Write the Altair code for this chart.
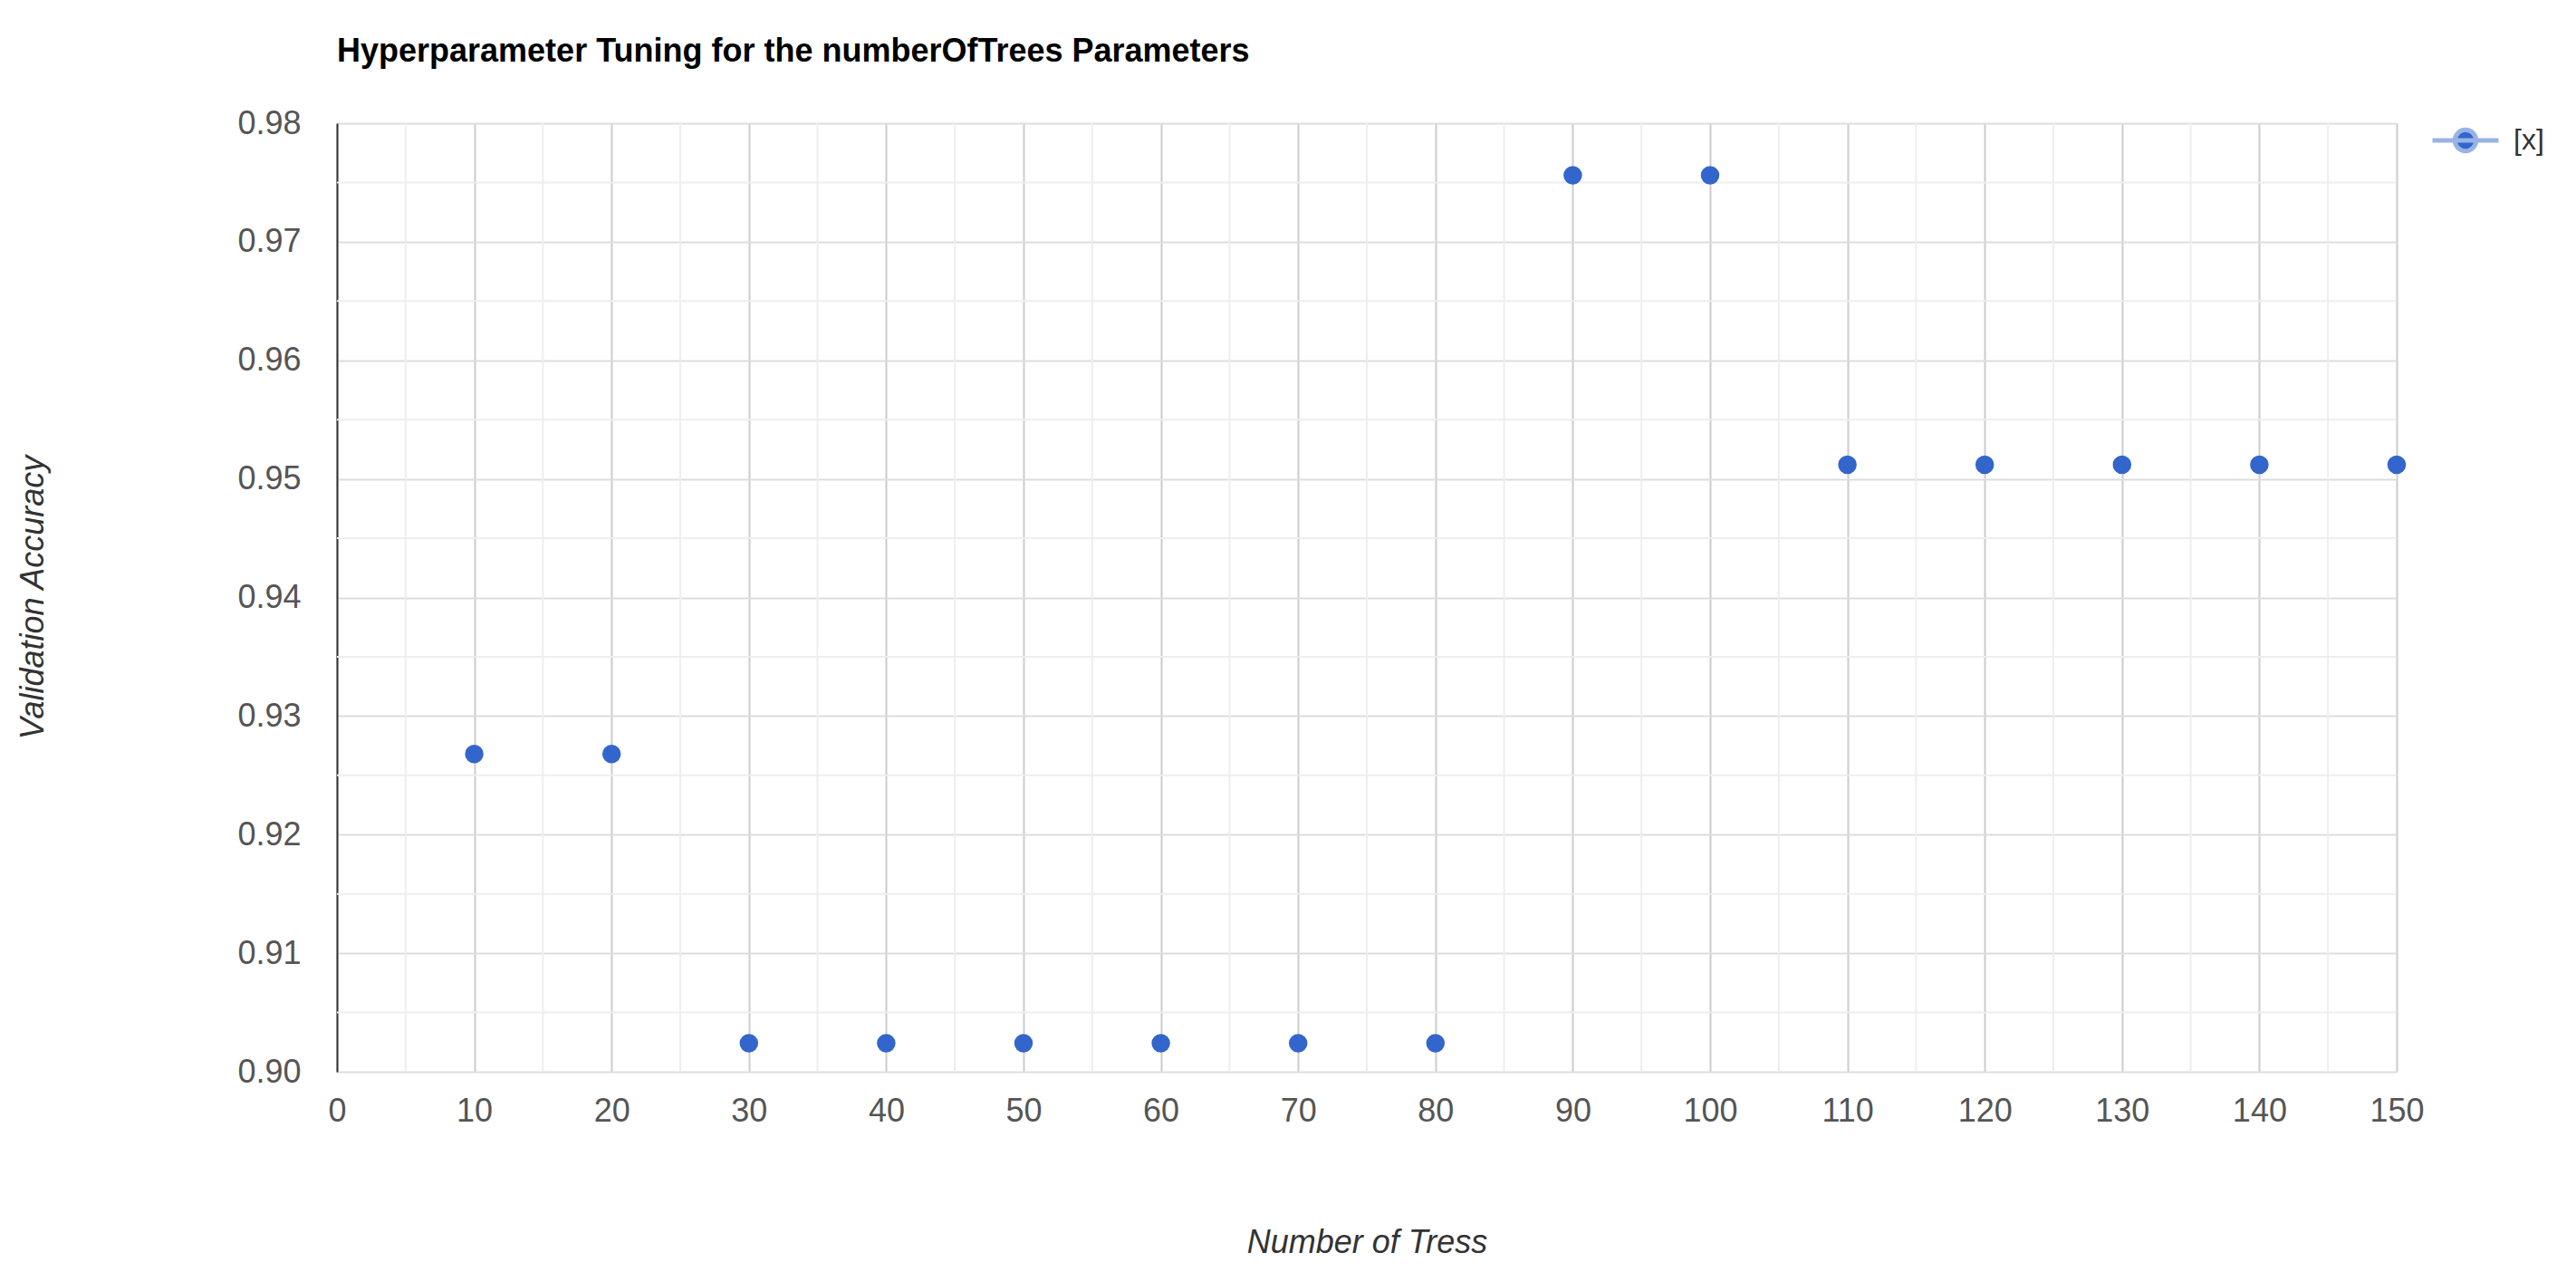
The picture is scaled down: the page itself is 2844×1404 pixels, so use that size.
import altair as alt
import pandas as pd

# ---- data ----
trees = [10, 20, 30, 40, 50, 60, 70, 80, 90, 100, 110, 120, 130, 140, 150]
accuracy = [0.9268, 0.9268, 0.9024, 0.9024, 0.9024, 0.9024, 0.9024, 0.9024,
            0.9756, 0.9756, 0.9512, 0.9512, 0.9512, 0.9512, 0.9512]
series = ["[x]"] * 15

x_ticks = [0, 10, 20, 30, 40, 50, 60, 70, 80, 90, 100, 110, 120, 130, 140, 150]
y_ticks = [0.90, 0.91, 0.92, 0.93, 0.94, 0.95, 0.96, 0.97, 0.98]
x_minor = [5, 15, 25, 35, 45, 55, 65, 75, 85, 95, 105, 115, 125, 135, 145]
y_minor = [0.905, 0.915, 0.925, 0.935, 0.945, 0.955, 0.965, 0.975]

FONT = "Liberation Sans"
BLUE = "#3366CC"

df = pd.DataFrame({"trees": trees, "accuracy": accuracy, "series": series})

x_scale = alt.Scale(domain=[0, 150], nice=False, zero=False)
y_scale = alt.Scale(domain=[0.90, 0.98], nice=False, zero=False)

x_axis = alt.Axis(
    values=x_ticks, format="d", grid=True, gridColor="#cccccc", gridWidth=2,
    domain=False, ticks=False, labelFlush=False,
    labelFont=FONT, labelFontSize=36, labelColor="#555555", labelPadding=26,
    title="Number of Tress", titleFont=FONT, titleFontSize=36,
    titleFontStyle="italic", titleFontWeight="normal", titleColor="#333333",
    titleY=188, titleBaseline="middle",
)
y_axis = alt.Axis(
    values=y_ticks, format=".2f", grid=True, gridColor="#dddddd", gridWidth=2,
    domain=True, domainColor="#333333", domainWidth=2, ticks=False,
    labelFont=FONT, labelFontSize=36, labelColor="#555555", labelPadding=40,
    title="Validation Accuracy", titleFont=FONT, titleFontSize=36,
    titleFontStyle="italic", titleFontWeight="normal", titleColor="#333333",
    titleX=-336, titleY=523, titleBaseline="middle", titleAngle=-90,
)

minor_x = alt.Chart(pd.DataFrame({"v": x_minor})).mark_rule(
    color="#eeeeee", strokeWidth=2
).encode(x=alt.X("v:Q", scale=x_scale, axis=x_axis))

minor_y = alt.Chart(pd.DataFrame({"v": y_minor})).mark_rule(
    color="#eeeeee", strokeWidth=2
).encode(y=alt.Y("v:Q", scale=y_scale, axis=y_axis))

legend_path = "M-1,0L1,0M0.32,0A0.32,0.32,0,1,1,-0.32,0A0.32,0.32,0,1,1,0.32,0Z"

points = alt.Chart(df).mark_circle(size=420, opacity=1).encode(
    x=alt.X("trees:Q", scale=x_scale, axis=x_axis),
    y=alt.Y("accuracy:Q", scale=y_scale, axis=y_axis),
    color=alt.Color(
        "series:N",
        scale=alt.Scale(domain=["[x]"], range=[BLUE]),
        legend=alt.Legend(
            title=None, orient="none", legendX=2311, legendY=-20,
            symbolType=legend_path, symbolSize=5329, symbolStrokeWidth=5,
            symbolStrokeColor="#99b3e6", symbolFillColor=BLUE,
            labelFont=FONT, labelFontSize=32, labelColor="#333333", labelOffset=14,
        ),
    ),
)

chart = alt.layer(minor_x, minor_y, points).properties(
    width=2274,
    height=1047,
    title=alt.Title(
        "Hyperparameter Tuning for the numberOfTrees Parameters",
        anchor="start", frame="group", font=FONT, fontSize=36, fontWeight="bold",
        color="#000000", offset=40,
    ),
    autosize=alt.AutoSizeParams(type="none"),
    padding={"left": 364, "top": 128, "right": 190, "bottom": 212},
).configure_view(stroke=None).configure(background="white")

chart.save("out.html", embed_options={"renderer": "svg", "actions": False})
